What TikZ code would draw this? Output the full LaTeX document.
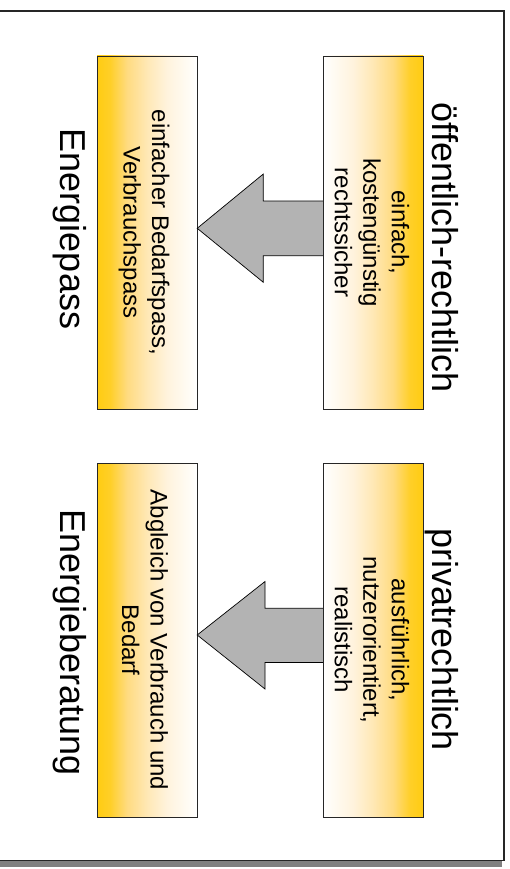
\documentclass[tikz,border=0pt]{standalone}
\usepackage{fontspec}
\setmainfont{Liberation Sans}
\usetikzlibrary{positioning}

% gold-to-white fades for the boxes
\definecolor{goldA}{RGB}{255,204,18}
\definecolor{goldB}{RGB}{255,207,40}
\definecolor{goldC}{RGB}{255,219,128}
\definecolor{goldD}{RGB}{255,232,181}
\definecolor{goldE}{RGB}{255,243,221}
\definecolor{goldF}{RGB}{255,251,243}
\definecolor{arrowgray}{RGB}{179,179,179}

\pgfdeclarehorizontalshading{goldleft}{100bp}{%
  color(0bp)=(goldA); color(25bp)=(goldA); color(31.5bp)=(goldB);
  color(40bp)=(goldC); color(50bp)=(goldD); color(60bp)=(goldE);
  color(70bp)=(goldF); color(75bp)=(white); color(100bp)=(white)}
\pgfdeclarehorizontalshading{goldright}{100bp}{%
  color(0bp)=(white); color(25bp)=(white); color(30bp)=(goldF);
  color(40bp)=(goldE); color(50bp)=(goldD); color(60bp)=(goldC);
  color(68.5bp)=(goldB); color(75bp)=(goldA); color(100bp)=(goldA)}

\tikzset{
  panel/.style={draw=black!85, line width=0.9pt},
  panelL/.style={panel, shading=goldleft},
  panelR/.style={panel, shading=goldright},
  title/.style={font=\fontsize{36}{40}\selectfont, rotate=-90, anchor=base, inner sep=0pt},
  boxtext/.style={font=\fontsize{24}{28.5}\selectfont, rotate=-90, align=center, inner sep=0pt},
  bigarrow/.style={draw=black, line width=0.7pt, fill=arrowgray, line join=miter},
}

\begin{document}
\begin{tikzpicture}[x=1pt, y=-1pt]
\useasboundingbox (0,0) rectangle (509,869);
\fill[white] (0,0) rectangle (509,869);

% page frame with its shadow
\fill[black!50] (0,860) rectangle (502,867);
\draw[black!85, line width=1.2pt] (-2,11) -- (504,11) -- (504,860.5) -- (-2,860.5);

% boxes
\path[panelR] (323,56) rectangle (423,409);
\path[panelL] (97,56) rectangle (197,409);
\path[panelR] (323,463) rectangle (423,817);
\path[panelL] (97,463) rectangle (197,817);

\node[inner sep=0pt, minimum width=100pt, minimum height=353pt] (oeff) at (373,232.5) {};
\node[inner sep=0pt, minimum width=100pt, minimum height=353pt] (pass) at (147,232.5) {};
\node[inner sep=0pt, minimum width=100pt, minimum height=354pt] (priv) at (373,640) {};
\node[inner sep=0pt, minimum width=100pt, minimum height=354pt] (berat) at (147,640) {};

% block arrows from right column to left column
\draw[bigarrow] (oeff.west |- 0,201) -- (263.3,201) -- (263.3,174) -- (pass.east |- 0,228.3)
  -- (263.3,282.3) -- (263.3,255.7) -- (oeff.west |- 0,255.7);
\draw[bigarrow] (priv.west |- 0,608.3) -- (265,608.3) -- (265,581.5) -- (berat.east |- 0,635)
  -- (265,689) -- (265,662.5) -- (priv.west |- 0,662.5);

% box texts
\node[boxtext] (t1) at (372,232.5) {einfach,\\kostengünstig\\rechtssicher};
\node[boxtext] (t2) at (144,232.5) {einfacher Bedarfspass,\\Verbrauchspass};
\node[boxtext] (t3) at (372,640) {ausführlich,\\nutzerorientiert,\\realistisch};
\node[boxtext] (t4) at (145,640) {Abgleich von Verbrauch und\\Bedarf};

% headings
\node[title] (h1) at (432,247.5) {öffentlich-rechtlich};
\node[title] (h2) at (432,640) {privatrechtlich};
\node[title] (h3) at (60,229) {Energiepass};
\node[title] (h4) at (60,642.5) {Energieberatung};
\end{tikzpicture}
\end{document}
